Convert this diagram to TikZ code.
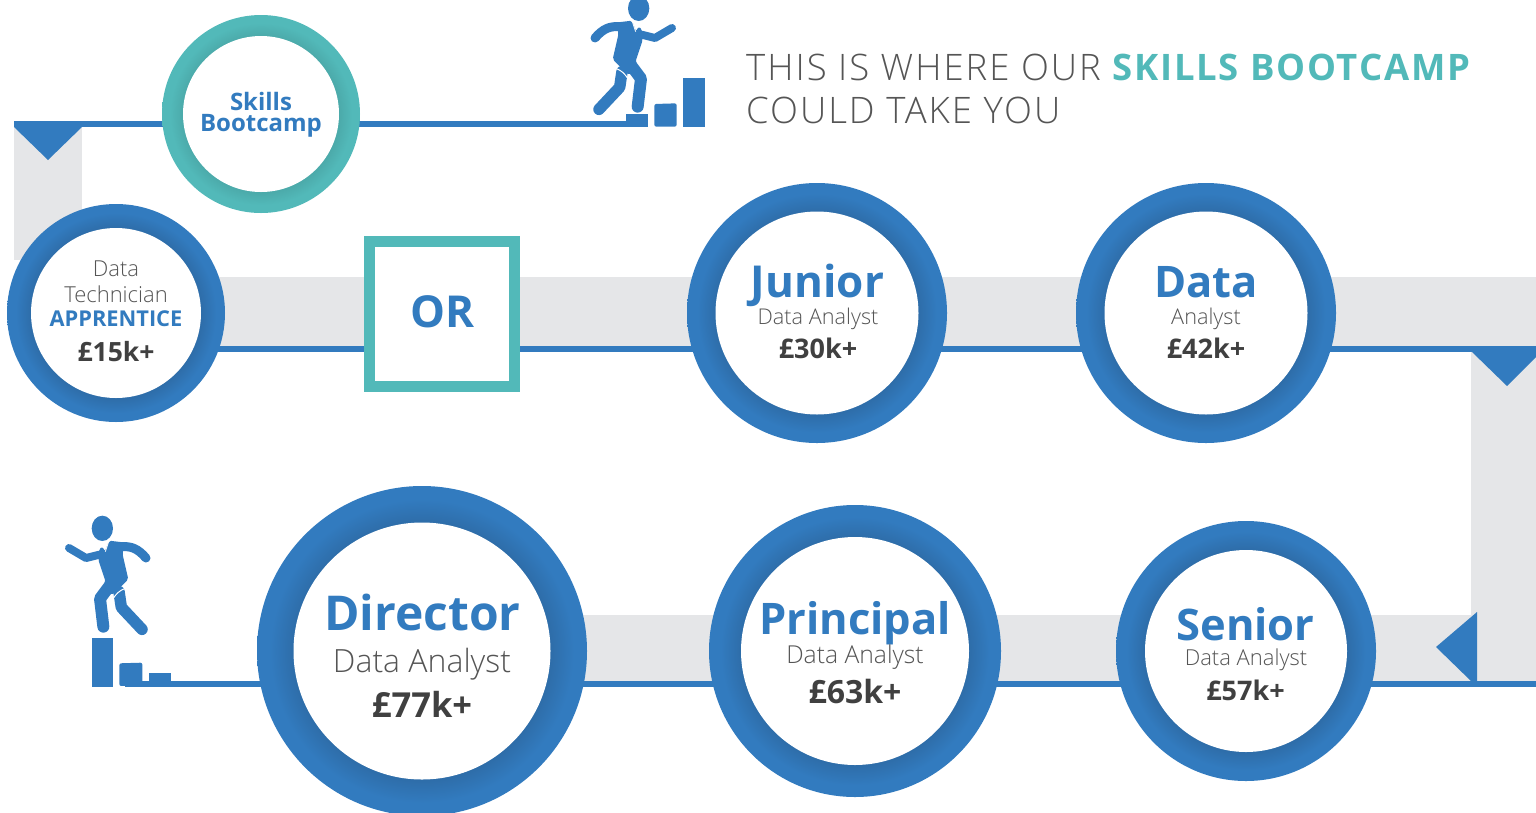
\documentclass[tikz,border=0pt]{standalone}
\usepackage{fontspec}
\setmainfont{Open Sans}
\newfontfamily\lightf{Open Sans Light}
\newfontfamily\boldf{Open Sans}[UprightFont=* Bold]
\newfontfamily\titlelight{Open Sans Light}[LetterSpace=5.5]
\newfontfamily\titlebold{Open Sans}[UprightFont=* Bold,LetterSpace=4.8]
\newcommand{\fsz}[1]{\fontsize{#1}{#1}\selectfont}
\definecolor{bl}{HTML}{327BBF}
\definecolor{bd}{HTML}{2E6DA9}
\definecolor{tl}{HTML}{52B9B9}
\definecolor{td}{HTML}{4BA9A9}
\definecolor{gy}{HTML}{E5E6E8}
\definecolor{tx}{HTML}{404040}
\definecolor{ltx}{HTML}{555555}
\pgfdeclareradialshading{ringblue}{\pgfpoint{0bp}{0bp}}{color(0bp)=(bd); color(19.5bp)=(bd); color(23bp)=(bl); color(50bp)=(bl)}
\pgfdeclareradialshading{ringteal}{\pgfpoint{0bp}{0bp}}{color(0bp)=(td); color(19.5bp)=(td); color(23bp)=(tl); color(50bp)=(tl)}
\tikzset{
  band/.style={fill=gy,draw=none},
  flow/.style={draw=bl,line width=6pt},
  tip/.style={fill=bl,draw=none},
  blring/.style={circle,inner sep=0pt,shading=ringblue,draw=none},
  tlring/.style={circle,inner sep=0pt,shading=ringteal,draw=none},
  hole/.style={circle,inner sep=0pt,fill=white,draw=none},
  tb/.style={anchor=base,inner sep=0pt,text=bl},
  tl2/.style={anchor=base,inner sep=0pt,text=ltx},
  tp/.style={anchor=base,inner sep=0pt,text=tx},
  limb/.style={draw=bl,line cap=round,line join=round}
}
\newcommand{\runnerfig}{%
    \fill[bl] (236,25) ellipse [x radius=32,y radius=38];
    \draw[limb,line width=9pt] (180,80) .. controls (150,78) and (130,85) .. (105,114);
    \draw[limb,line width=8pt] (245,104) -- (285,114) -- (336,84);
    \fill[bl,rounded corners=2pt] (165,68) -- (216,62) -- (228,94) -- (236,80) -- (246,88) -- (248,120) -- (226,186) -- (240,205) -- (205,225) -- (158,178) -- (176,100) -- cycle;
    \draw[limb,line width=12pt] (205,185) -- (243,236) -- (233,320);
    \draw[limb,line width=11.5pt] (186,215) -- (179,262) -- (117,328);
    \draw[white,line width=1pt] (168,205) .. controls (185,212) and (195,222) .. (203,235);
    \draw[white,line width=.8pt] (216,62) -- (227,95);
    \draw[white,line width=.8pt] (228,75) -- (244,76);
}
\begin{document}
\begin{tikzpicture}[x=1pt,y=-1pt]
\useasboundingbox (0,0) rectangle (1536,812);
\clip (0,0) rectangle (1536,812);
% named anchors of the flow
\coordinate (tl) at (14,124);
\coordinate (skl) at (261,124);
\coordinate (stepa) at (630,124);
\coordinate (techc) at (116,349);
\coordinate (rt) at (1536,349);
\coordinate (rb) at (1536,684);
\coordinate (stepb) at (125,684);
% grey bands
\fill[band] (14,121) rectangle (82,260);
\fill[band] (180,277) rectangle (1536,349);
\fill[band] (1471,349) rectangle (1536,684);
\fill[band] (500,615) rectangle (1536,684);
% flow lines
\draw[flow] (tl) -- (stepa);
\draw[flow] (techc) -- (rt);
\draw[flow] (rb) -- (stepb);
% arrow tips
\fill[tip] (14,121) -- (82,121) -- (82,127) -- (48,160) -- (14,127) -- cycle;
\fill[tip] (1472,352) -- (1507,386) -- (1545,348) -- (1472,348) -- cycle;
\fill[tip] (1477,612) -- (1436,647) -- (1472,682) -- (1477,682) -- cycle;
% runners and steps
\begin{scope}[shift={(560,0)},x=0.3333pt,y=-0.3333pt]
\runnerfig
\fill[bl] (198,342) rectangle (263,380);
\fill[bl,rounded corners=2pt] (283,312) -- (350,310) -- (350,380) -- (283,380) -- cycle;
\fill[bl] (370,235) rectangle (435,380);
\end{scope}
\begin{scope}[shift={(181,520)},x=-0.3333pt,y=-0.3333pt]
\runnerfig
\end{scope}
\begin{scope}[shift={(50,500)},x=0.3333pt,y=-0.3333pt]
\fill[bl] (125,415) rectangle (190,560);
\fill[bl,rounded corners=2pt] (208,490) -- (277,488) -- (277,558) -- (208,558) -- cycle;
\fill[bl] (297,520) rectangle (362,545);
\end{scope}
% circles
\node[tlring,minimum size=198pt] (skills) at (261,114) {};
\node[hole,minimum size=156pt] at (skills) {};
\node[blring,minimum size=218pt] (tech) at (116,313) {};
\node[hole,minimum size=170pt] at (tech) {};
\node[blring,minimum size=260pt] (junior) at (817,313) {};
\node[hole,minimum size=203pt] at (junior) {};
\node[blring,minimum size=260pt] (data) at (1206,313) {};
\node[hole,minimum size=203pt] at (data) {};
\node[blring,minimum size=330pt] (director) at (422,651) {};
\node[hole,minimum size=257pt] at (director) {};
\node[blring,minimum size=292pt] (principal) at (855,651) {};
\node[hole,minimum size=228pt] at (principal) {};
\node[blring,minimum size=260pt] (senior) at (1246,651) {};
\node[hole,minimum size=202pt] at (senior) {};
% OR box
\node[draw=tl,line width=11pt,fill=white,minimum size=145pt,inner sep=0pt] (orbox) at (442,314) {};
% texts
\node[tb,font=\boldf\fsz{44}] (t0) at (443,327) {OR};
\node[tb,font=\boldf\fsz{24}] (t1) at (261,110) {Skills};
\node[tb,font=\boldf\fsz{24}] (t2) at (261,131) {Bootcamp};
\node[tl2,font=\lightf\fsz{22}] (t3) at (116,276) {Data};
\node[tl2,font=\lightf\fsz{22}] (t4) at (116,302) {Technician};
\node[tb,font=\boldf\fsz{21.8}] (t5) at (116,326) {APPRENTICE};
\node[tp,font=\boldf\fsz{26.5}] (t6) at (116,361) {£15k+};
\node[tb,font=\boldf\fsz{44}] (t7) at (817.5,297) {Junior};
\node[tl2,font=\lightf\fsz{21.7}] (t8) at (818,324) {Data Analyst};
\node[tp,font=\boldf\fsz{27}] (t9) at (818,358) {£30k+};
\node[tb,font=\boldf\fsz{43.5}] (t10) at (1206,297) {Data};
\node[tl2,font=\lightf\fsz{21.7}] (t11) at (1206,324) {Analyst};
\node[tp,font=\boldf\fsz{27}] (t12) at (1206,358) {£42k+};
\node[tb,font=\boldf\fsz{48}] (t13) at (422.5,630) {Director};
\node[tl2,font=\lightf\fsz{32}] (t14) at (422,672) {Data Analyst};
\node[tp,font=\boldf\fsz{34.5}] (t15) at (422,717) {£77k+};
\node[tb,font=\boldf\fsz{43.5}] (t16) at (855,634) {Principal};
\node[tl2,font=\lightf\fsz{24.7}] (t17) at (855,663) {Data Analyst};
\node[tp,font=\boldf\fsz{32}] (t18) at (855,703) {£63k+};
\node[tb,font=\boldf\fsz{43.5}] (t19) at (1245.5,640) {Senior};
\node[tl2,font=\lightf\fsz{22}] (t20) at (1246,665) {Data Analyst};
\node[tp,font=\boldf\fsz{27}] (t21) at (1245.5,700) {£57k+};
\node[anchor=base west,inner sep=0pt,text=ltx,font=\titlelight\fsz{36.5}] (t22) at (746,80) {THIS IS WHERE OUR \textcolor{tl}{\titlebold SKILLS BOOTCAMP}};
\node[anchor=base west,inner sep=0pt,text=ltx,font=\titlelight\fsz{36.5}] (t23) at (746,123) {COULD TAKE YOU};
\end{tikzpicture}
\end{document}
